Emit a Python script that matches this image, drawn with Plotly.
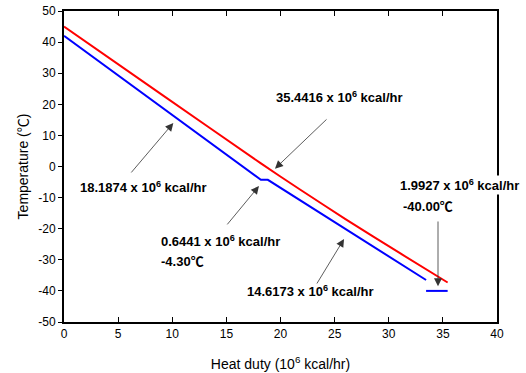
import plotly.graph_objects as go

# Hot stream (red) and cold stream (blue) composite curves
hot_duty = [0, 9, 18.19, 21.8, 26, 31, 35.44]
hot_temp = [45, 23.2, 1.0, -7.4, -16.9, -27.8, -37.3]

cold_duty = [0, 18.1874, 18.8315, 33.4488]
cold_temp = [42, -4.3, -4.3, -36.5]

cold_end_duty = [33.4488, 35.4415]
cold_end_temp = [-40, -40]

x_ticks = [0, 5, 10, 15, 20, 25, 30, 35, 40]
x_tick_labels = ["0", "5", "10", "15", "20", "25", "30", "35", "40"]
y_ticks = [50, 40, 30, 20, 10, 0, -10, -20, -30, -40, -50]
y_tick_labels = ["50", "40", "30", "20", "10", "0", "-10", "-20", "-30", "-40", "-50"]

FONT = "Liberation Sans, Arial, Noto Sans CJK SC, sans-serif"

fig = go.Figure()
fig.add_trace(go.Scatter(x=hot_duty, y=hot_temp, mode="lines",
                         line=dict(color="#ff0000", width=2, shape="spline", smoothing=0.6),
                         showlegend=False))
fig.add_trace(go.Scatter(x=cold_duty, y=cold_temp, mode="lines",
                         line=dict(color="#0000ff", width=2), showlegend=False))
fig.add_trace(go.Scatter(x=cold_end_duty, y=cold_end_temp, mode="lines",
                         line=dict(color="#0000ff", width=2), showlegend=False))

bold = dict(family=FONT, size=13, color="black")

texts = [
    ("<b>18.1874 x 10<sup>6</sup> kcal/hr</b>", 1.29, -6.6, None),
    ("<b>35.4416 x 10<sup>6</sup> kcal/hr</b>", 19.4, 22.35, None),
    ("<b>0.6441 x 10<sup>6</sup> kcal/hr</b>", 8.78, -23.95, None),
    ("<b>-4.30℃</b>", 8.78, -30.7, None),
    ("<b>14.6173 x 10<sup>6</sup> kcal/hr</b>", 16.72, -40.0, None),
    ("<b>1.9927 x 10<sup>6</sup> kcal/hr</b>", 30.85, -5.95, "white"),
    ("<b>-40.00℃</b>", 31.13, -12.7, None),
]
for t, x, y, bg in texts:
    fig.add_annotation(text=t, x=x, y=y, xref="x", yref="y", showarrow=False,
                       xanchor="left", yanchor="middle", font=bold,
                       bgcolor=bg if bg else "rgba(0,0,0,0)")

arrows = [
    (6.10, -2.4, 10.1, 14.0),
    (24.39, 15.6, 19.49, -0.7),
    (14.97, -19.1, 18.01, -6.3),
    (23.28, -38.1, 25.87, -23.3),
    (34.55, -17.2, 34.55, -38.5),
]
for ax, ay, x, y in arrows:
    fig.add_annotation(text="", x=x, y=y, ax=ax, ay=ay, xref="x", yref="y",
                       axref="x", ayref="y", showarrow=True, arrowhead=2,
                       arrowsize=2, arrowwidth=0.8, arrowcolor="#333333")

fig.update_layout(
    width=526, height=373,
    margin=dict(l=64, r=29, t=11, b=51, autoexpand=False),
    paper_bgcolor="white", plot_bgcolor="white",
    font=dict(family=FONT, size=12, color="black"),
)
fig.update_xaxes(range=[0, 40], tickvals=x_ticks, ticktext=x_tick_labels,
                 showgrid=False, zeroline=False,
                 showline=True, linecolor="black", linewidth=2, mirror="ticks",
                 ticks="inside", ticklen=5, tickcolor="black", tickwidth=1,
                 tickfont=dict(size=12), automargin=False,
                 title=dict(text="Heat duty (10<sup>6</sup> kcal/hr)", font=dict(size=14), standoff=19))
fig.update_yaxes(range=[-50, 50], tickvals=y_ticks, ticktext=y_tick_labels,
                 showgrid=False, zeroline=False,
                 showline=True, linecolor="black", linewidth=2, mirror=True,
                 ticks="outside", ticklen=4, tickcolor="black", tickwidth=1,
                 tickfont=dict(size=12), automargin=False,
                 title=dict(text="Temperature (℃)", font=dict(size=14), standoff=6))

fig.write_html("out.html")
